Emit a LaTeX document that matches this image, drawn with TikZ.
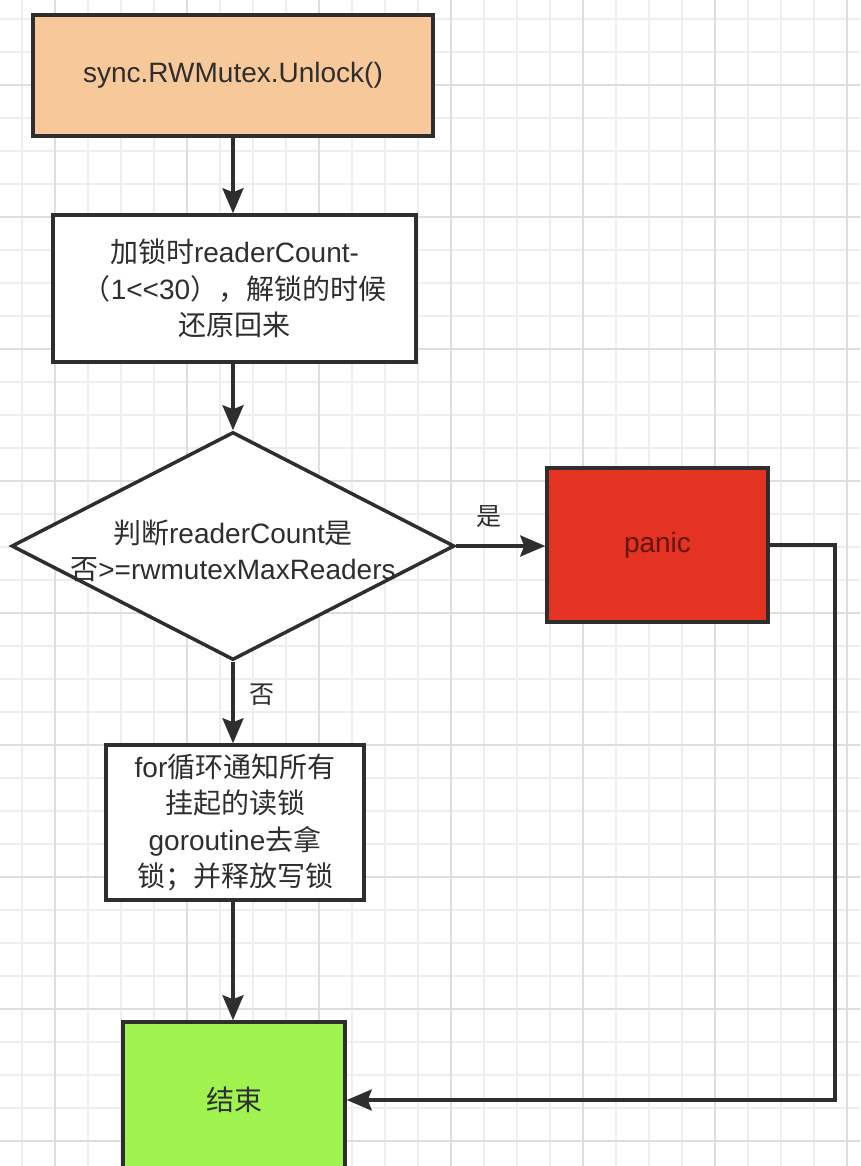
\documentclass[tikz,border=0pt]{standalone}
\usepackage{fontspec}
\setmainfont{Liberation Sans}
\newfontfamily\cjk{Noto Sans CJK SC}
\usetikzlibrary{shapes.geometric,arrows.meta}
\definecolor{peach}{HTML}{F7C99A}
\definecolor{panicred}{HTML}{E43223}
\definecolor{endgreen}{HTML}{A0F24E}
\definecolor{ink}{HTML}{2E2E2E}
\definecolor{gridminor}{HTML}{EEEEEE}
\definecolor{gridmajor}{HTML}{DEDEDE}
\tikzset{
  box/.style={draw=ink, line width=3.5pt, rectangle, inner sep=0pt, align=center,
    text=ink, font=\fontsize{28}{36.5}\selectfont},
  conn/.style={draw=ink, line width=3.5pt, -{Stealth[length=25pt,width=21pt,inset=4pt]}},
  lbl/.style={text=ink, font=\fontsize{25}{28}\selectfont\cjk, inner sep=0pt},
  gminor/.style={draw=gridminor, line width=1.2pt},
  gmajor/.style={draw=gridmajor, line width=1.4pt}
}
\begin{document}
\begin{tikzpicture}[x=1pt,y=-1pt]
\useasboundingbox (0,0) rectangle (860,1166);
\clip (0,0) rectangle (860,1166);
\fill[white] (0,0) rectangle (860,1166);
% grid
\foreach \x in {22,55,...,860} \draw[gminor] (\x,0) -- (\x,1166);
\foreach \y in {19,52,...,1166} \draw[gminor] (0,\y) -- (860,\y);
\foreach \x in {55,187,...,860} \draw[gmajor] (\x,0) -- (\x,1166);
\foreach \y in {85,217,...,1166} \draw[gmajor] (0,\y) -- (860,\y);

% nodes
\node[box, fill=peach, minimum width=400, minimum height=121] (s) at (233,75.5)
  {sync.RWMutex.Unlock()};
\node[box, fill=white, minimum width=363, minimum height=147] (b2) at (234.5,288.5)
  {{\cjk 加锁时}readerCount-\\{\cjk （}1{<}{<}30{\cjk ），解锁的时候}\\{\cjk 还原回来}};
\node[diamond, draw=ink, fill=white, line width=3.5pt, minimum width=443, minimum height=228, inner sep=0pt] (d) at (233,546) {};
\node[text=ink, font=\fontsize{28}{36.5}\selectfont, align=center, inner sep=0pt] (dt) at (233,551)
  {{\cjk 判断}readerCount{\cjk 是}\\{\cjk 否}>=rwmutexMaxReaders};
\node[box, fill=panicred, text={rgb,255:red,100;green,22;blue,14}, minimum width=221, minimum height=154] (p) at (657.5,545) {panic};
\node[box, fill=white, minimum width=258, minimum height=155] (b4) at (235,822.5)
  {for{\cjk 循环通知所有}\\{\cjk 挂起的读锁}\\goroutine{\cjk 去拿}\\{\cjk 锁；并释放写锁}};
\node[box, fill=endgreen, minimum width=222, minimum height=156] (e) at (234,1100) {\cjk 结束};

% connectors
\draw[conn] (s.south) -- (s.south |- b2.north);
\draw[conn] (s.south |- b2.south) -- (d.north);
\draw[conn] (d.east) -- (d.east -| p.west);
\node[lbl] (yes) at (489,517) {是};
\draw[conn] (d.south) -- (d.south |- b4.north);
\node[lbl] (no) at (262,695) {否};
\draw[conn] (d.south |- b4.south) -- (d.south |- e.north);
\coordinate (c1) at (835,545);
\draw[conn] (p.east) -- (c1) |- (e.east);
\end{tikzpicture}
\end{document}
